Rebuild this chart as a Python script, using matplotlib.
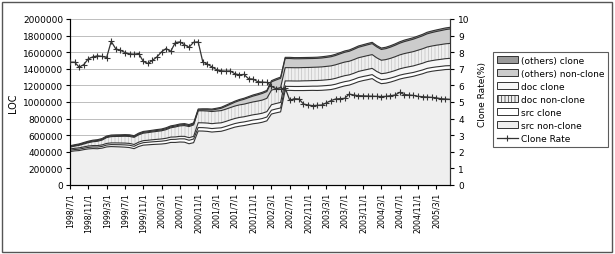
"""LOC breakdown (src / doc / others, clone vs non-clone) with clone rate overlay."""
import matplotlib
matplotlib.use("Agg")
import matplotlib.pyplot as plt
import numpy as np
from matplotlib.lines import Line2D
from matplotlib.patches import Patch, Rectangle

# monthly snapshots 1998/7 .. 2005/6, LOC in thousands
SRC_NONCLONE_K = [
    403, 411, 415, 426, 435, 439, 437, 444, 459, 463,
    461, 459, 456, 451, 438, 464, 480, 484, 488, 491,
    494, 500, 513, 513, 518, 516, 497, 510, 651, 650,
    646, 638, 643, 647, 662, 680, 697, 708, 716, 727,
    738, 745, 756, 773, 855, 869, 881, 1140, 1140, 1138,
    1138, 1138, 1139, 1140, 1139, 1141, 1145, 1150, 1162, 1179,
    1194, 1204, 1223, 1244, 1258, 1269, 1282, 1246, 1221, 1227,
    1240, 1257, 1276, 1289, 1299, 1310, 1325, 1340, 1359, 1370,
    1378, 1384, 1391, 1393]
SRC_CLONE_K = [
    16, 16, 17, 17, 18, 19, 20, 21, 22, 24,
    25, 26, 27, 28, 28, 29, 30, 31, 32, 33,
    34, 35, 36, 37, 38, 40, 42, 44, 41, 41,
    41, 42, 42, 42, 43, 43, 43, 44, 44, 44,
    45, 45, 45, 46, 46, 47, 47, 48, 48, 49,
    49, 50, 50, 51, 52, 53, 53, 53, 52, 52,
    51, 51, 50, 50, 49, 49, 48, 48, 48, 48,
    48, 47, 47, 47, 47, 46, 46, 46, 46, 45,
    45, 45, 45, 45]
DOC_CLONE_K = [
    15, 15, 16, 16, 17, 17, 18, 18, 20, 20,
    21, 21, 22, 22, 22, 23, 24, 24, 25, 26,
    27, 28, 28, 29, 30, 30, 31, 32, 58, 58,
    59, 59, 60, 60, 60, 61, 61, 62, 62, 63,
    63, 64, 64, 65, 66, 66, 67, 66, 66, 66,
    66, 67, 67, 67, 68, 68, 69, 70, 71, 71,
    72, 72, 73, 74, 74, 75, 75, 74, 72, 73,
    74, 75, 76, 77, 78, 79, 80, 81, 82, 83,
    84, 85, 86, 88]
DOC_NONCLONE_K = [
    22, 26, 30, 35, 40, 46, 52, 58, 70, 76,
    78, 80, 82, 84, 86, 88, 90, 92, 94, 96,
    98, 104, 112, 120, 126, 130, 134, 138, 144, 145,
    145, 146, 146, 147, 148, 148, 150, 151, 152, 154,
    155, 157, 158, 160, 175, 178, 180, 160, 160, 160,
    160, 160, 160, 160, 161, 161, 162, 162, 163, 163,
    164, 164, 165, 165, 165, 166, 166, 164, 162, 163,
    164, 166, 168, 170, 171, 172, 173, 174, 175, 176,
    177, 178, 179, 180]
OTHERS_NONCLONE_K = [
    8, 8, 8, 8, 8, 9, 9, 9, 9, 9,
    9, 9, 10, 10, 10, 10, 10, 10, 10, 11,
    11, 11, 11, 11, 11, 12, 12, 12, 10, 12,
    15, 18, 22, 28, 34, 40, 46, 52, 58, 64,
    70, 75, 80, 82, 100, 105, 110, 110, 110, 108,
    108, 107, 107, 106, 106, 107, 108, 110, 112, 115,
    118, 120, 123, 126, 128, 130, 132, 132, 130, 132,
    135, 138, 141, 144, 147, 150, 153, 156, 159, 162,
    165, 168, 171, 174]
OTHERS_CLONE_K = [
    9, 9, 9, 10, 10, 10, 10, 10, 10, 10,
    10, 10, 10, 10, 10, 11, 11, 11, 11, 11,
    11, 12, 12, 12, 12, 12, 12, 12, 12, 12,
    12, 12, 12, 12, 13, 13, 13, 13, 13, 13,
    14, 14, 14, 14, 15, 15, 15, 14, 14, 14,
    14, 14, 14, 14, 14, 15, 15, 15, 15, 15,
    16, 16, 16, 16, 16, 16, 16, 16, 17, 17,
    17, 17, 17, 18, 18, 18, 18, 18, 19, 19,
    19, 20, 20, 20]
CLONE_RATE = [
    7.40, 7.40, 7.10, 7.25, 7.60, 7.72, 7.78, 7.75, 7.68, 8.65,
    8.20, 8.12, 7.98, 7.90, 7.88, 7.92, 7.45, 7.32, 7.50, 7.72,
    8.02, 8.22, 8.05, 8.58, 8.62, 8.45, 8.30, 8.60, 8.62, 7.42,
    7.28, 7.12, 6.95, 6.88, 6.86, 6.87, 6.70, 6.64, 6.66, 6.40,
    6.38, 6.22, 6.20, 6.18, 5.95, 5.80, 5.78, 5.85, 5.10, 5.20,
    5.18, 4.88, 4.82, 4.78, 4.80, 4.82, 4.95, 5.08, 5.18, 5.20,
    5.22, 5.48, 5.42, 5.38, 5.37, 5.36, 5.35, 5.34, 5.33, 5.34,
    5.38, 5.42, 5.58, 5.45, 5.42, 5.40, 5.34, 5.32, 5.30, 5.28,
    5.25, 5.20, 5.18, 5.16]
TICK_LABELS = [
    "1998/7/1", "1998/11/1", "1999/3/1", "1999/7/1", "1999/11/1",
    "2000/3/1", "2000/7/1", "2000/11/1", "2001/3/1", "2001/7/1",
    "2001/11/1", "2002/3/1", "2002/7/1", "2002/11/1", "2003/3/1",
    "2003/7/1", "2003/11/1", "2004/3/1", "2004/7/1", "2004/11/1",
    "2005/3/1"]
TICK_STEP = 4

# stacking order bottom -> top, with fill style
LAYERS = [
    ("src non-clone", SRC_NONCLONE_K, "#efefef", None),
    ("src clone", SRC_CLONE_K, "#ffffff", None),
    ("doc clone", DOC_CLONE_K, "#f7f7f7", None),
    ("doc non-clone", DOC_NONCLONE_K, "#efefef", "|||||"),
    ("(others) non-clone", OTHERS_NONCLONE_K, "#cccccc", None),
    ("(others) clone", OTHERS_CLONE_K, "#9a9a9a", None),
]
LEGEND_ORDER = ["(others) clone", "(others) non-clone", "doc clone",
                "doc non-clone", "src clone", "src non-clone"]

W, H = 615, 255
EDGE = "#333333"
FS = 6.5


def main():
    n = len(CLONE_RATE)
    for name, vals, _, _ in LAYERS:
        assert len(vals) == n, (name, len(vals))
    x = np.arange(n)

    plt.rcParams["hatch.linewidth"] = 0.5
    fig = plt.figure(figsize=(W / 100, H / 100), dpi=100)
    ax = fig.add_axes([70 / W, 1 - 186 / H, 380 / W, 166 / H])

    base = np.zeros(n)
    for name, vals, color, hatch in LAYERS:
        top = base + np.asarray(vals, float) * 1000
        if hatch:
            ax.fill_between(x, base, top, facecolor=color, edgecolor="#c2c2c2",
                            hatch=hatch, linewidth=0, zorder=2)
        else:
            ax.fill_between(x, base, top, facecolor=color, linewidth=0, zorder=2)
        ax.plot(x, top, color=EDGE, lw=0.8, zorder=3)
        base = top

    ax.set_xlim(0, n - 1)
    ax.set_ylim(0, 2000000)
    ax.set_yticks(np.arange(0, 2000001, 200000))
    ax.yaxis.set_major_formatter(matplotlib.ticker.FormatStrFormatter("%d"))
    ax.grid(axis="y", color="#bdbdbd", lw=0.7, zorder=1)
    ax.set_axisbelow(True)
    ax.set_xticks(np.arange(0, TICK_STEP * len(TICK_LABELS), TICK_STEP))
    ax.set_xticklabels(TICK_LABELS, rotation=90, fontsize=5.7)
    ax.tick_params(axis="y", labelsize=FS, direction="out", length=3, width=0.8, pad=2)
    ax.tick_params(axis="x", direction="out", length=3, width=0.8, pad=2)
    ax.spines["top"].set_visible(False)
    for s in ("left", "bottom", "right"):
        ax.spines[s].set_color(EDGE)
        ax.spines[s].set_linewidth(0.8)
    ax.set_ylabel("LOC", fontsize=FS + 0.5)
    ax.yaxis.set_label_coords(-0.137, 0.5)

    ax2 = ax.twinx()
    ax2.plot(x, CLONE_RATE, color=EDGE, lw=0.9, marker="+", ms=4, mew=0.8, zorder=5)
    ax2.set_ylim(0, 10)
    ax2.set_yticks(np.arange(0, 11, 1))
    ax2.tick_params(axis="y", labelsize=FS, direction="out", length=3, width=0.8, pad=3)
    ax2.spines["top"].set_visible(False)
    ax2.spines["right"].set_color(EDGE)
    ax2.spines["right"].set_linewidth(0.8)
    ax2.set_ylabel("Clone Rate(%)", fontsize=FS)
    ax2.yaxis.set_label_coords(1.074, 0.55)

    styles = {name: (color, hatch) for name, _, color, hatch in LAYERS}
    handles = []
    for name in LEGEND_ORDER:
        color, hatch = styles[name]
        handles.append(Patch(facecolor=color, edgecolor=EDGE, hatch=hatch, lw=0.7))
    handles.append(Line2D([], [], color=EDGE, lw=0.9, marker="+", ms=4, mew=0.8))
    leg = fig.legend(handles, LEGEND_ORDER + ["Clone Rate"], loc="upper left",
                     bbox_to_anchor=(493 / W, 1 - 53 / H), fontsize=FS,
                     frameon=True, fancybox=False, handlelength=2.4, handleheight=0.8,
                     handletextpad=0.3, labelspacing=0.45, borderpad=0.4,
                     borderaxespad=0)
    leg.get_frame().set_edgecolor(EDGE)
    leg.get_frame().set_linewidth(0.8)

    fig.patches.append(Rectangle((2 / W, 2 / H), 1 - 5 / W, 1 - 5 / H, transform=fig.transFigure,
                                 fill=False, edgecolor="#555555", lw=1.0))
    fig.savefig("out.png", dpi=100)


if __name__ == "__main__":
    main()
